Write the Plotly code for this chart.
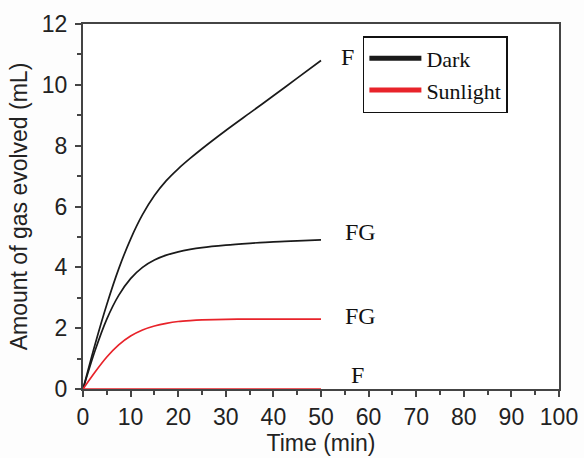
import plotly.graph_objects as go

time_min = [0, 2.5, 5, 7.5, 10, 12.5, 15, 17.5, 20, 22.5, 25, 30, 35, 40, 45, 50]
dark_F = [0, 1.45, 2.78, 3.95, 4.93, 5.73, 6.36, 6.85, 7.24, 7.58, 7.9, 8.5, 9.07, 9.64, 10.22, 10.8]
dark_FG = [0, 1.25, 2.3, 3.08, 3.63, 4.0, 4.24, 4.4, 4.51, 4.59, 4.65, 4.73, 4.79, 4.84, 4.87, 4.9]
sun_FG = [0, 0.55, 1.05, 1.45, 1.74, 1.94, 2.07, 2.16, 2.22, 2.25, 2.27, 2.29, 2.3, 2.3, 2.3, 2.3]
sun_F = [0] * len(time_min)

series_names = ["Dark", "Sunlight"]
x_ticks = [0, 10, 20, 30, 40, 50, 60, 70, 80, 90, 100]
y_ticks = [0, 2, 4, 6, 8, 10, 12]

BLACK = "#1a1a1a"
RED = "#e8232a"

fig = go.Figure()
for ys, col in [(dark_F, BLACK), (dark_FG, BLACK), (sun_FG, RED), (sun_F, RED)]:
    fig.add_trace(go.Scatter(x=time_min, y=ys, mode="lines",
                             line=dict(color=col, width=1.7, shape="spline", smoothing=0.8),
                             showlegend=False, cliponaxis=False, hoverinfo="skip"))
# legend entries
for name, col in zip(series_names, [BLACK, RED]):
    fig.add_trace(go.Scatter(x=[None], y=[None], mode="lines", name=name,
                             line=dict(color=col, width=5)))

serif = dict(family="Liberation Serif, Times New Roman, serif", size=24, color="#111")
annots = [
    dict(x=55.5, y=10.9, text="F"),
    dict(x=58.4, y=5.16, text="FG"),
    dict(x=58.4, y=2.40, text="FG"),
    dict(x=57.6, y=0.45, text="F"),
]
for a in annots:
    fig.add_annotation(x=a["x"], y=a["y"], text=a["text"], xref="x", yref="y",
                       showarrow=False, font=serif, xanchor="center", yanchor="middle")

axis_common = dict(showline=True, linecolor="#444", linewidth=2, mirror=True,
                   ticks="outside", tickcolor="#444", tickwidth=1.5, ticklen=6,
                   showgrid=False, zeroline=False, layer="below traces", automargin=False,
                   tickfont=dict(family="Liberation Sans, Arial, sans-serif", size=23, color="#222"),
                   title_font=dict(family="Liberation Sans, Arial, sans-serif", size=23, color="#222"))

fig.update_xaxes(range=[0, 100], tickvals=x_ticks, title_text="Time (min)",
                 minor=dict(dtick=5, ticks="outside", ticklen=4, tickcolor="#444", tickwidth=1.5),
                 title_standoff=2, **axis_common)
fig.update_yaxes(range=[0, 12], tickvals=y_ticks, title_text="Amount of gas evolved (mL)",
                 minor=dict(dtick=1, ticks="outside", ticklen=4, tickcolor="#444", tickwidth=1.5),
                 title_standoff=8, ticklabelstandoff=3, **axis_common)

fig.update_layout(
    width=584, height=458,
    margin=dict(l=83, r=25, t=24, b=69),
    plot_bgcolor="white", paper_bgcolor="#fdfdfd",
    legend=dict(x=0.588, y=0.967, xanchor="left", yanchor="top",
                bordercolor="#111", borderwidth=1.5, bgcolor="white",
                font=dict(family="Liberation Serif, Times New Roman, serif", size=22, color="#111"),
                itemwidth=52, tracegroupgap=0),
)

fig.write_html("out.html", config={"displayModeBar": False},
               post_script="document.body.style.margin='0';")
